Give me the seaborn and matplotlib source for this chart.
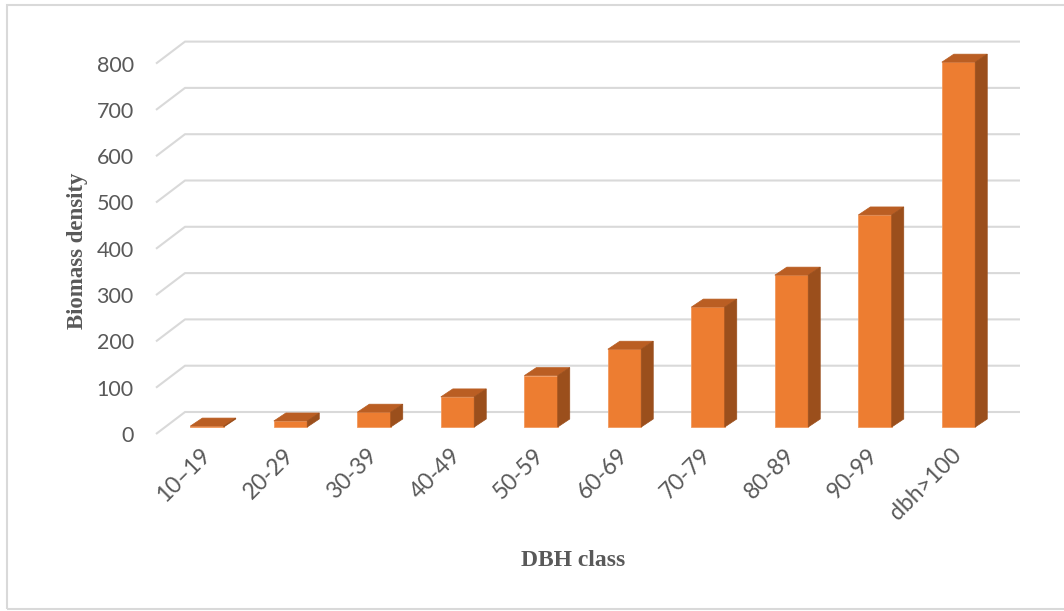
import matplotlib
matplotlib.use("Agg")
import matplotlib.pyplot as plt
from matplotlib.patches import Polygon, Rectangle
from matplotlib.transforms import ScaledTranslation
import seaborn as sns

# Biomass density per diameter-at-breast-height class
dbh_classes = ["10–19", "20-29", "30-39", "40-49", "50-59",
               "60-69", "70-79", "80-89", "90-99", "dbh>100"]
biomass = [2, 13, 32, 65, 111, 168, 259, 328, 458, 788]
y_ticks = [0, 100, 200, 300, 400, 500, 600, 700, 800]

FACE = "#ED7D31"
TOP = "#BA5E23"
SIDE = "#9B4F1C"
GRID = "#D9D9D9"
TEXT = "#595959"

sns.set_theme(style="white")
plt.rcParams["font.family"] = ["Lato", "DejaVu Sans"]

W, H, DPI = 1064, 611, 100
fig = plt.figure(figsize=(W / DPI, H / DPI), dpi=DPI)

# front plane of the 3-D box (pixels): x 156..991, value 0 at y=434, 800 at y=63.6
left_px, right_px, base_px, top_px = 156, 991, 434, 63.6
ax = fig.add_axes([left_px / W, (H - base_px) / H,
                   (right_px - left_px) / W, (base_px - top_px) / H])

sns.barplot(x=dbh_classes, y=biomass, color=FACE, saturation=1, width=0.4,
            edgecolor="#F29A5E", linewidth=0.6, ax=ax, zorder=3)
ax.set_xlim(-0.5, 9.5)
ax.set_ylim(0, 800)

# data units per pixel
ppx = (right_px - left_px) / 10.0          # pixels per category
ppy = (base_px - top_px) / 800.0           # pixels per value unit
back_dx, back_dy = 29 / ppx, 22 / ppy      # full depth of the box
bar_dx, bar_dy = 12 / ppx, 8 / ppy         # depth of each bar

# perspective gridlines: short diagonal on the side wall, then along the back wall
for v in y_ticks:
    ax.plot([-0.5, -0.5 + back_dx, 9.5 + back_dx], [v, v + back_dy, v + back_dy],
            color=GRID, lw=1.5, clip_on=False, zorder=1, solid_capstyle="butt")

# bars sit part-way into the box; add their top and side faces
shift = ScaledTranslation(9.3 / DPI, 7 / DPI, fig.dpi_scale_trans)
for patch in list(ax.patches):
    patch.set_transform(ax.transData + shift)
    patch.set_clip_on(False)
    x0 = patch.get_x()
    x1 = x0 + patch.get_width()
    h = patch.get_height()
    top_face = Polygon([(x0, h), (x1, h), (x1 + bar_dx, h + bar_dy), (x0 + bar_dx, h + bar_dy)],
                       closed=True, facecolor=TOP, edgecolor=TOP, lw=0.5,
                       transform=ax.transData + shift, clip_on=False, zorder=3)
    side_face = Polygon([(x1, 0), (x1 + bar_dx, bar_dy), (x1 + bar_dx, h + bar_dy), (x1, h)],
                        closed=True, facecolor=SIDE, edgecolor=SIDE, lw=0.5,
                        transform=ax.transData + shift, clip_on=False, zorder=3)
    ax.add_patch(top_face)
    ax.add_patch(side_face)

for s in ax.spines.values():
    s.set_visible(False)
ax.grid(False)
ax.set_facecolor("none")

ax.set_yticks(y_ticks)
ax.set_yticklabels([str(v) for v in y_ticks])
ax.tick_params(axis="y", length=0, pad=16, labelsize=15.5, labelcolor=TEXT)
ax.tick_params(axis="x", length=0, pad=13, labelsize=16.5, labelcolor=TEXT)
for lab in ax.get_xticklabels():
    lab.set_rotation(45)
    lab.set_ha("right")
    lab.set_va("center")
    lab.set_rotation_mode("anchor")
    lab.set_transform(lab.get_transform() + ScaledTranslation(9 / DPI, 0, fig.dpi_scale_trans))

serif = ["Liberation Serif", "DejaVu Serif"]
ax.set_ylabel("Biomass density", fontsize=16.5, fontweight="bold", color=TEXT,
              family=serif, ha="center", va="center")
ax.yaxis.set_label_coords((78 - left_px) / (right_px - left_px), (base_px - 251) / (base_px - top_px))
ax.set_xlabel("DBH class", fontsize=17, fontweight="bold", color=TEXT,
              family=serif, ha="center", va="center")
ax.xaxis.set_label_coords((573 - left_px) / (right_px - left_px), (base_px - 560) / (base_px - top_px))

# chart frame
fig.patches.append(Rectangle((7 / W, 2 / H), 1.2, (H - 7) / H, transform=fig.transFigure,
                             fill=False, edgecolor=GRID, lw=1.5))

fig.savefig("out.png", dpi=DPI, facecolor="white")
